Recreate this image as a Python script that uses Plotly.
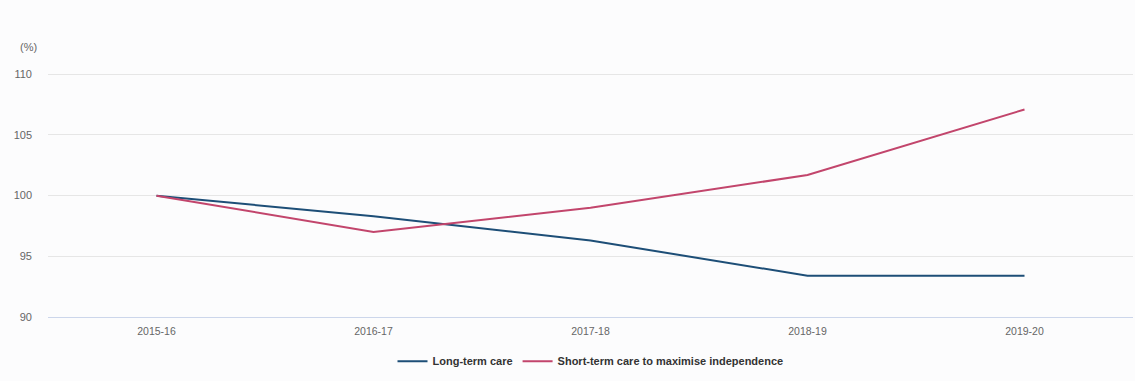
import plotly.graph_objects as go

years = ["2015-16", "2016-17", "2017-18", "2018-19", "2019-20"]
long_term = [100, 98.3, 96.3, 93.4, 93.4]
short_term = [100, 97.0, 99.0, 101.7, 107.1]

fig = go.Figure()
fig.add_trace(go.Scatter(
    x=years, y=long_term, mode="lines", name="Long-term care",
    line=dict(color="#1d4e77", width=2),
))
fig.add_trace(go.Scatter(
    x=years, y=short_term, mode="lines", name="Short-term care to maximise independence",
    line=dict(color="#c2456c", width=2),
))

fig.update_layout(
    width=1135, height=381,
    margin=dict(l=48, r=2, t=50, b=64, autoexpand=False),
    paper_bgcolor="#fcfcfd",
    plot_bgcolor="#fcfcfd",
    font=dict(family="Liberation Sans, Arial, sans-serif", color="#666666", size=11),
    showlegend=True,
    legend=dict(
        orientation="h", x=0.5, xanchor="center",
        yref="container", y=0.052, yanchor="middle",
        font=dict(size=11, color="#333333", family="Liberation Sans, Arial, sans-serif", weight="bold"),
        itemwidth=30, tracegroupgap=0,
    ),
    xaxis=dict(
        type="category", range=[-0.5, 4.5],
        showgrid=False, showline=True, linecolor="#ccd6eb", linewidth=1,
        ticks="", tickfont=dict(size=10.5, color="#666666"),
        ticklabelstandoff=4,
        fixedrange=True,
    ),
    yaxis=dict(
        range=[90, 112], tickvals=[90, 95, 100, 105, 110],
        showgrid=True, gridcolor="#e6e6e6", gridwidth=1,
        zeroline=False, showline=False, ticks="",
        tickfont=dict(size=11, color="#666666"),
        ticklabelstandoff=15,
    ),
    annotations=[dict(
        text="(%)", xref="paper", yref="paper", x=-0.018, y=1.0, xanchor="center",
        yanchor="middle", yshift=3, showarrow=False, font=dict(size=11, color="#666666"),
    )],
)

fig.write_html("out.html")
